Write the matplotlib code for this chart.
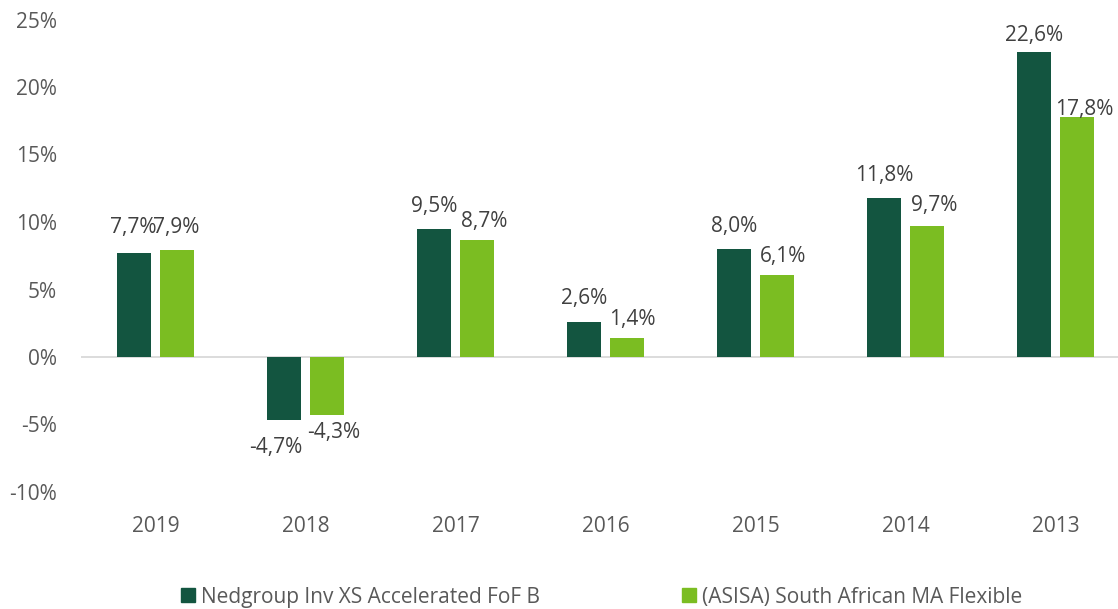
import matplotlib
matplotlib.use("Agg")
import matplotlib.pyplot as plt
from matplotlib.patches import Patch
import numpy as np

years = ["2019", "2018", "2017", "2016", "2015", "2014", "2013"]
fund = [7.7, -4.7, 9.5, 2.6, 8.0, 11.8, 22.6]
sector = [7.9, -4.3, 8.7, 1.4, 6.1, 9.7, 17.8]
series_names = ["Nedgroup Inv XS Accelerated FoF B", "(ASISA) South African MA Flexible"]
yticks = [-10, -5, 0, 5, 10, 15, 20, 25]

# label placement tweaks (pixels) – mimic the placement in the original
gap_dark = [20, 18, 17, 18, 17, 17, 11]
gap_light = [17, 8, 13, 13, 13, 15, 2]
dx_dark = [-1, -8, 0, 0, 0, 0, 0]
dx_light = [-1, 7, 7, 6, 6, 7, 7]

DARK = "#135540"
LIGHT = "#7BBD22"
TICK_C = "#595959"
LAB_C = "#404040"
FONT = "Open Sans"
FS = 15
PX = 72 / 100  # points per pixel at dpi 100

plt.rcParams["font.family"] = [FONT, "DejaVu Sans"]

W, H = 1118, 609
fig = plt.figure(figsize=(W / 100, H / 100), dpi=100)
ax = fig.add_axes([80.5 / W, 1 - 492 / H, 1050 / W, 472.5 / H])

x = np.arange(len(years))
bw = 0.223
off = 0.142
b1 = ax.bar(x - off, fund, bw, color=DARK, zorder=3)
b2 = ax.bar(x + off, sector, bw, color=LIGHT, zorder=3)

ax.set_xlim(-0.5, len(years) - 0.5)
ax.set_ylim(-10, 25)
ax.set_yticks(yticks)
ax.set_yticklabels([f"{v}%" for v in yticks], color=TICK_C, fontsize=FS)
ax.set_xticks(x)
ax.set_xticklabels(years, color=TICK_C, fontsize=FS)
ax.tick_params(axis="both", length=0)
ax.tick_params(axis="y", pad=23.5 * PX)
ax.tick_params(axis="x", pad=24 * PX)
for s in ax.spines.values():
    s.set_visible(False)
ax.axhline(0, color="#D9D9D9", lw=1.3, zorder=2)

def fmt(v):
    return f"{v:.1f}%".replace(".", ",")

for bars, vals, gaps, dxs in ((b1, fund, gap_dark, dx_dark), (b2, sector, gap_light, dx_light)):
    for rect, v, g, dx in zip(bars, vals, gaps, dxs):
        cx = rect.get_x() + rect.get_width() / 2
        if v >= 0:
            ax.annotate(fmt(v), (cx, v), xytext=(dx * PX, g * PX), textcoords="offset points",
                        ha="center", va="baseline", fontsize=FS, color=LAB_C)
        else:
            ax.annotate(fmt(v), (cx, v), xytext=(dx * PX, -(g - 1) * PX), textcoords="offset points",
                        ha="center", va="top", fontsize=FS, color=LAB_C)

handles = [Patch(color=DARK), Patch(color=LIGHT)]
fig.legend(handles, series_names, ncol=2, loc="center left",
           bbox_to_anchor=(181 / W, 1 - 597 / H), frameon=False,
           fontsize=FS, labelcolor=TICK_C, handlelength=0.68, handleheight=0.68,
           handletextpad=0.28, columnspacing=6.8, borderaxespad=0, borderpad=0)

fig.savefig("out.png", dpi=100)
